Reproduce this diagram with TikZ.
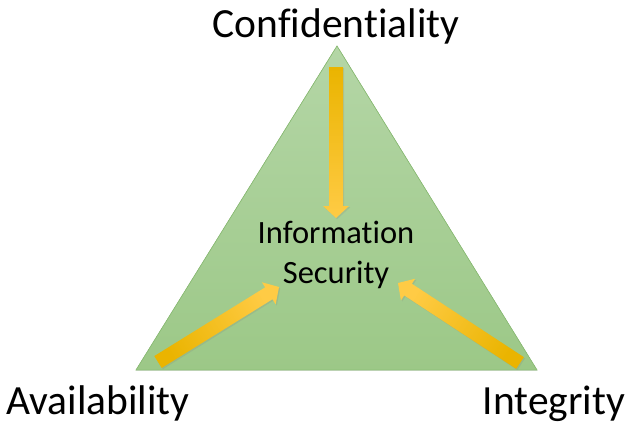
\documentclass[tikz,border=0pt]{standalone}
\usepackage{fontspec}
\setmainfont{Carlito}[Ligatures=NoCommon]
\usetikzlibrary{calc,shadows}
\definecolor{triTop}{HTML}{B4D6A6}
\definecolor{triBot}{HTML}{9CC887}
\definecolor{triEdge}{HTML}{8DC076}
\definecolor{arDark}{HTML}{EAB400}
\definecolor{arMid}{HTML}{FFC600}
\definecolor{arLight}{HTML}{FFCB45}
\tikzset{
  label text/.style={font=\fontsize{41.5}{48}\selectfont, anchor=base, inner sep=0pt},
  core text/.style={font=\fontsize{32.5}{40}\selectfont, align=center, anchor=base, inner sep=0pt},
  blockarrow/.style={top color=arDark, middle color=arMid, bottom color=arLight, draw=none,
    drop shadow={opacity=0.2, shadow xshift=1.2pt, shadow yshift=-1.2pt}},
}
\newcommand{\blockarrowfrom}[3]{% tail, tip, shading angle
  \path[blockarrow, shading angle=#3]
    ($(#1)!7pt!90:(#2)$) --
    ($($(#2)!12pt!(#1)$)!7pt!-90:(#1)$) --
    ($($(#2)!12pt!(#1)$)!13pt!-90:(#1)$) --
    (#2) --
    ($($(#2)!12pt!(#1)$)!13pt!90:(#1)$) --
    ($($(#2)!12pt!(#1)$)!7pt!90:(#1)$) --
    ($(#1)!7pt!-90:(#2)$) -- cycle;
}
\begin{document}
\begin{tikzpicture}[x=1pt,y=-1pt]
\useasboundingbox (0,0) rectangle (640,431);
\coordinate (apex) at (337,46);
\coordinate (bl) at (136,370);
\coordinate (br) at (537,370);
\fill[top color=triTop, bottom color=triBot] (apex) -- (br) -- (bl) -- cycle;
\draw[triEdge, line width=0.7pt, line join=miter] (apex) -- (br) -- (bl) -- cycle;

\node[label text] (conf) at (336,37) {Confidentiality};
\node[label text] (avail) at (98,414) {Availability};
\node[label text] (integ) at (554,414) {Integrity};
\node[core text] (infosec) at (336,283) {Information\\Security};

\coordinate (t1) at (336,67);  \coordinate (h1) at (336,218);
\coordinate (t2) at (158,362); \coordinate (h2) at (279,287);
\coordinate (t3) at (520,363); \coordinate (h3) at (398,283);
\blockarrowfrom{t1}{h1}{0}
\blockarrowfrom{t2}{h2}{121.8}
\blockarrowfrom{t3}{h3}{236.7}
\end{tikzpicture}
\end{document}
